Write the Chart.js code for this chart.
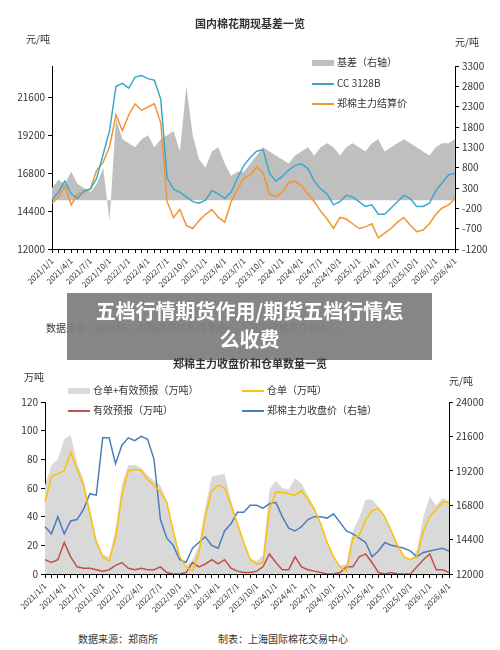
<!DOCTYPE html>
<html><head><meta charset="utf-8">
<script src="https://cdn.jsdelivr.net/npm/chart.js@4"></script>
<style>
body{margin:0;width:500px;height:650px;background:#fff;font-family:"Noto Sans CJK SC","Noto Sans",sans-serif;position:relative;overflow:hidden;color:#333}
.t{position:absolute;white-space:nowrap;font-size:10px}
canvas{position:absolute;left:0}
.lg{display:inline-block;width:22px;vertical-align:middle;margin-right:3px}
</style></head><body>
<canvas id="c1" style="top:0" width="500" height="319"></canvas>
<canvas id="c2" style="top:330px" width="500" height="294"></canvas>
<div class="t" style="left:0;width:500px;text-align:center;top:15px;font-weight:bold;font-size:11px">国内棉花期现基差一览</div>
<div class="t" style="left:26px;top:31px">元/吨</div>
<div class="t" style="left:455px;top:34px">元/吨</div>
<div class="t" style="left:312px;top:54px"><span class="lg" style="height:6px;background:#bfbfbf"></span>基差（右轴）</div>
<div class="t" style="left:312px;top:75px"><span class="lg" style="height:2px;background:#3aa8c8"></span>CC 3128B</div>
<div class="t" style="left:312px;top:95px"><span class="lg" style="height:2px;background:#f59332"></span>郑棉主力结算价</div>
<div class="t" style="left:46px;top:320px">数据来源：郑商所、中国棉花信息网 制表：上海国际棉花交易中心</div>
<div style="position:absolute;left:67px;top:293px;width:365px;height:63px;background:rgba(128,128,128,0.95);color:#fff;font-weight:bold;font-size:20px;text-align:center;line-height:28px;padding-top:4px">五档行情期货作用/期货五档行情怎<br>么收费</div>
<div class="t" style="left:0;width:500px;text-align:center;top:355px;font-weight:bold;font-size:11px">郑棉主力收盘价和仓单数量一览</div>
<div class="t" style="left:24px;top:369px">万吨</div>
<div class="t" style="left:449px;top:373px">元/吨</div>
<div class="t" style="left:68px;top:382px"><span class="lg" style="height:6px;background:#d9d9d9"></span>仓单+有效预报（万吨）</div>
<div class="t" style="left:242px;top:382px"><span class="lg" style="height:2px;background:#ffc000"></span>仓单（万吨）</div>
<div class="t" style="left:68px;top:402px"><span class="lg" style="height:2px;background:#c0504d"></span>有效预报（万吨）</div>
<div class="t" style="left:242px;top:402px"><span class="lg" style="height:2px;background:#4a7ebb"></span>郑棉主力收盘价（右轴）</div>
<div class="t" style="left:78px;top:631px">数据来源：郑商所</div>
<div class="t" style="left:218px;top:631px">制表：上海国际棉花交易中心</div>
<script>
const months=[];for(let y=2021;y<=2026;y++)for(let m=1;m<=12;m++){if(y===2026&&m>4)break;months.push(y+'/'+m+'/1');}
const topLeftTicks=[12000,14400,16800,19200,21600];
const topRightTicks=[-1200,-700,-200,300,800,1300,1800,2300,2800,3300];
const botLeftTicks=[0,20,40,60,80,100,120];
const botRightTicks=[12000,14400,16800,19200,21600,24000];
const cc3128=[15100,15600,16300,15500,15200,15700,15800,16500,18000,19500,22300,22500,22200,22900,23000,22800,22700,21500,16500,15800,15600,15300,15000,14900,15100,15700,15500,15200,15600,16500,17300,17800,18200,18300,16800,16300,16600,17000,17300,17400,17100,16300,15800,15500,14800,15000,15400,15300,15000,14700,14800,14200,14200,14600,15000,15400,15200,14700,14700,14900,15700,16200,16700,16800];
const zcSettle=[14900,15300,16000,14800,15500,15600,15800,17000,17500,18500,20500,19500,20500,21200,20800,21000,21200,20000,15000,14000,14500,13500,13300,13800,14200,14500,14000,13700,15000,15800,16500,16700,17200,16800,15500,15300,15600,16200,16300,16000,15500,15000,14400,13900,13300,14000,13900,13600,13300,13400,13600,12700,13000,13300,13700,14000,13500,13100,13200,13600,14200,14600,14800,15200];
const basis=[300,500,400,700,400,300,200,400,800,-500,2000,1500,1400,1300,1500,1600,1300,1500,1600,1700,1200,2800,1600,1000,800,1200,1300,900,600,700,700,900,1100,1300,1200,1100,1000,900,1100,1200,1300,1100,1300,1400,1300,1100,1300,1400,1300,1200,1400,1500,1200,1300,1400,1500,1400,1300,1200,1100,1300,1400,1400,1500];
const totalStock=[62,76,80,94,97,78,66,46,25,14,12,31,63,76,76,74,69,65,62,51,30,12,6,10,20,47,68,69,70,52,37,23,11,9,13,59,65,60,59,67,63,55,47,36,22,12,6,7,30,39,52,52,47,40,31,20,12,10,17,40,54,48,53,51];
const warrants=[50,68,70,72,85,73,62,42,22,12,9,25,55,72,73,72,66,62,57,50,30,12,5,2,15,40,58,62,60,48,35,22,10,7,8,45,57,57,56,55,58,52,45,35,22,12,5,2,25,27,38,44,46,40,30,20,12,10,12,30,40,45,50,50];
const forecasts=[10,8,10,22,12,5,4,4,3,2,3,6,8,4,3,4,3,3,5,1,0,0,1,8,5,7,10,7,10,4,2,1,1,2,5,14,8,3,3,12,5,3,2,1,0,0,1,5,5,12,14,8,1,0,1,0,0,0,5,10,14,3,3,1];
const zcClose=[15300,14800,16000,14800,15700,15800,16500,17600,17500,21500,21500,19700,21000,21500,21300,21600,21400,20000,15800,14500,14000,13000,12800,13800,14200,14600,14000,13800,15000,15500,16300,16300,16800,16800,16600,16900,17000,16000,15200,15000,15300,15800,16000,16000,15900,16200,15600,15000,14800,14500,14200,13200,13600,14200,14000,13900,13800,13600,13200,13500,13600,13700,13800,13600];

const tickFont={family:'Noto Sans CJK SC',size:10};
function yAxis(pos,min,max,ticks,w){return {position:pos,min:min,max:max,grid:{drawOnChartArea:false,color:'#000',tickLength:4},border:{color:'#000'},
 ticks:{color:'#333',font:tickFont,callback:v=>String(v)},afterBuildTicks:s=>{s.ticks=ticks.map(v=>({value:v}))},afterFit:s=>{s.width=w}};}
function xAxis(h){return {grid:{drawOnChartArea:false,color:'#000',tickLength:4},border:{color:'#000'},ticks:{color:'#333',font:{family:'Noto Sans CJK SC',size:8},autoSkip:false,maxRotation:45,minRotation:45,callback:(v,i)=>i%3===0?months[i]:''},afterFit:s=>{s.height=h}};}
const common={animation:false,responsive:false,plugins:{legend:{display:false},tooltip:{enabled:false}},elements:{point:{radius:0},line:{tension:0}}};

new Chart(document.getElementById('c1'),{type:'line',data:{labels:months,datasets:[
{data:cc3128,borderColor:'#3aa8c8',borderWidth:1.5,yAxisID:'y'},
{data:zcSettle,borderColor:'#f59332',borderWidth:1.5,yAxisID:'y'},
{data:basis,borderWidth:0,backgroundColor:'#bfbfbf',fill:{value:0},yAxisID:'y2'}]},
options:Object.assign({},common,{layout:{padding:{top:66}},scales:{
x:xAxis(70),
y:yAxis('left',12000,23600,topLeftTicks,52),
y2:yAxis('right',-1200,3300,topRightTicks,45)}})});

new Chart(document.getElementById('c2'),{type:'line',data:{labels:months,datasets:[
{data:warrants,borderColor:'#ffc000',borderWidth:1.5,yAxisID:'y'},
{data:forecasts,borderColor:'#c0504d',borderWidth:1.5,yAxisID:'y'},
{data:zcClose,borderColor:'#4a7ebb',borderWidth:1.5,yAxisID:'y2'},
{data:totalStock,borderWidth:0,backgroundColor:'#d9d9d9',fill:'origin',yAxisID:'y'}]},
options:Object.assign({},common,{layout:{padding:{top:72}},scales:{
x:xAxis(50),
y:yAxis('left',0,120,botLeftTicks,45),
y2:yAxis('right',12000,24000,botRightTicks,51)}})});
</script></body></html>
